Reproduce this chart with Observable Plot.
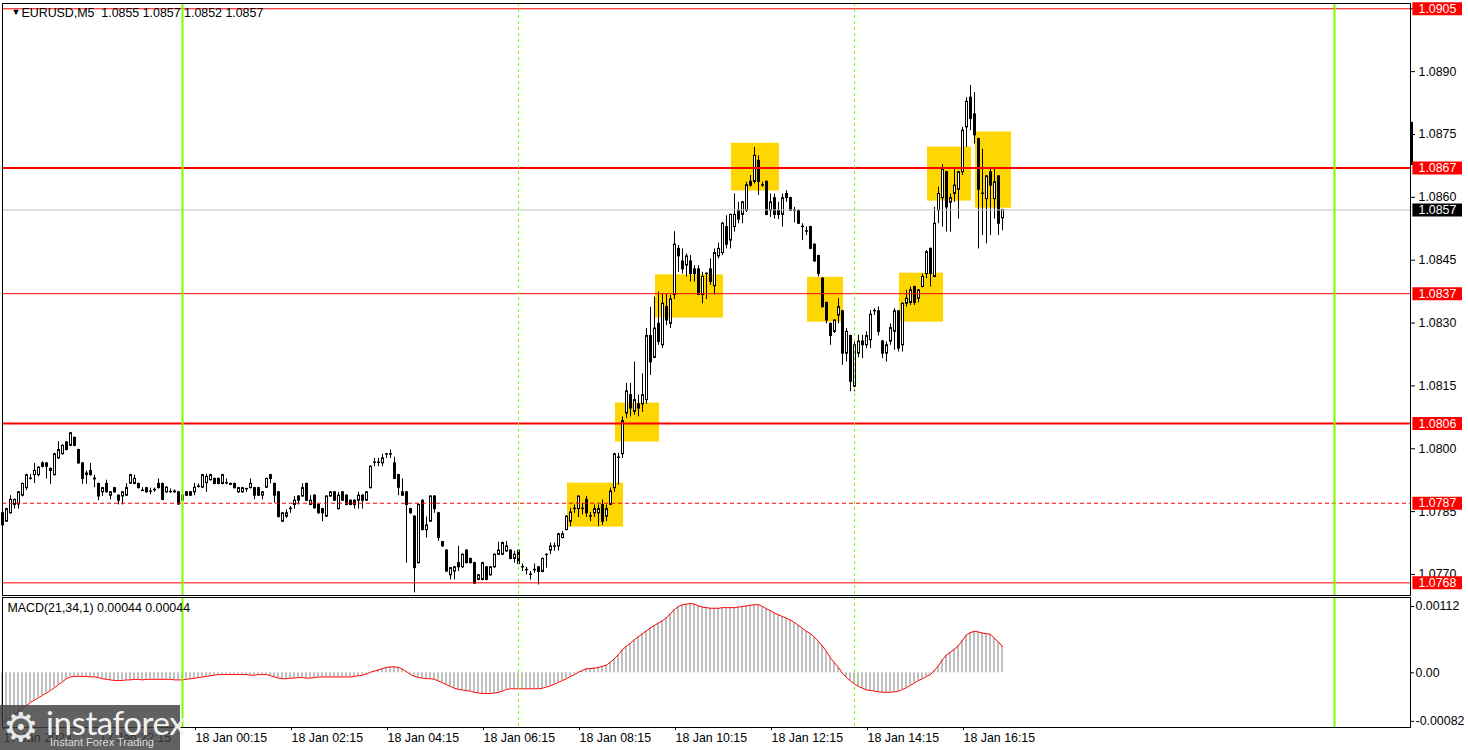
<!DOCTYPE html>
<html><head><meta charset="utf-8">
<script src="https://cdn.jsdelivr.net/npm/d3@7"></script>
<script src="https://cdn.jsdelivr.net/npm/@observablehq/plot@0.6"></script>
<style>
html,body{margin:0;padding:0;background:#fff;}
#wrap{position:relative;width:1468px;height:750px;overflow:hidden;font-family:"Liberation Sans",Arial,sans-serif;}
#wrap svg{display:block;}
#logo{position:absolute;left:0;top:705px;width:180px;height:45px;background:rgba(62,62,62,0.82);color:#fff;}
#logo .gear{position:absolute;left:3px;top:0px;font-size:40px;line-height:44px;color:#e8e8e8;font-family:"DejaVu Sans";}
#logo .brand{position:absolute;left:46px;top:0px;font-size:33px;line-height:34px;color:#f2f2f2;font-family:"Lato","Liberation Sans";letter-spacing:-0.4px;}
#logo .tag{position:absolute;left:50px;top:31px;font-size:11px;line-height:13px;color:#ddd;font-family:"Liberation Sans";}
</style></head><body>
<div id="wrap"><div id="logo"><div class="gear">⚙</div><div class="brand">instaforex</div><div class="tag">Instant Forex Trading</div></div></div>
<script>
// ---- data: EURUSD M5 candles (index 0 = 17 Jan 20:15, step 5 min) ----
const opens = [
1.07846,1.07826,1.07846,1.07866,1.07867,1.07888,1.07906,1.07928,1.07937,1.07937,
1.07965,1.07965,1.07952,1.07937,1.07977,1.07987,1.08015,1.08007,1.08026,1.07997,
1.07965,1.07937,1.07947,1.07929,1.07916,1.07896,1.07916,1.07888,1.07906,1.07888,
1.07886,1.07888,1.07917,1.07916,1.07916,1.07900,1.07906,1.07898,1.07902,1.07916,
1.07916,1.07896,1.07897,1.07898,1.07896,1.07876,1.07896,1.07896,1.07896,1.07909,
1.07907,1.07918,1.07925,1.07928,1.07928,1.07916,1.07917,1.07916,1.07916,1.07896,
1.07896,1.07904,1.07906,1.07906,1.07906,1.07888,1.07907,1.07937,1.07916,1.07896,
1.07826,1.07838,1.07856,1.07866,1.07886,1.07886,1.07916,1.07866,1.07888,1.07866,
1.07856,1.07838,1.07886,1.07896,1.07856,1.07896,1.07888,1.07876,1.07876,1.07876,
1.07888,1.07876,1.07906,1.07966,1.07967,1.07965,1.07986,1.07987,1.07965,1.07937,
1.07896,1.07896,1.07856,1.07838,1.07727,1.07876,1.07806,1.07826,1.07886,1.07846,
1.07777,1.07757,1.07698,1.07707,1.07727,1.07717,1.07757,1.07737,1.07727,1.07687,
1.07687,1.07717,1.07698,1.07717,1.07747,1.07747,1.07755,1.07757,1.07737,1.07757,
1.07718,1.07711,1.07700,1.07710,1.07717,1.07706,1.07746,1.07757,1.07766,1.07767,
1.07787,1.07806,1.07826,1.07856,1.07856,1.07857,1.07878,1.07839,1.07846,1.07846,
1.07866,1.07838,1.07866,1.07906,1.07978,1.07987,1.08084,1.08128,1.08088,1.08106,
1.08106,1.08116,1.08269,1.08217,1.08298,1.08247,1.08338,1.08298,1.08367,1.08477,
1.08447,1.08437,1.08447,1.08428,1.08428,1.08367,1.08417,1.08428,1.08388,1.08459,
1.08467,1.08529,1.08497,1.08529,1.08568,1.08558,1.08568,1.08637,1.08637,1.08687,
1.08628,1.08637,1.08568,1.08598,1.08568,1.08558,1.08608,1.08598,1.08569,1.08568,
1.08530,1.08519,1.08529,1.08487,1.08460,1.08406,1.08348,1.08298,1.08279,1.08318,
1.08328,1.08227,1.08269,1.08148,1.08227,1.08256,1.08247,1.08259,1.08329,1.08328,
1.08256,1.08227,1.08256,1.08279,1.08328,1.08247,1.08346,1.08348,1.08386,1.08358,
1.08386,1.08417,1.08477,1.08410,1.08568,1.08598,1.08660,1.08587,1.08608,1.08618,
1.08660,1.08767,1.08838,1.08798,1.08739,1.08609,1.08596,1.08660,1.08596,1.08650,
1.08550];
const highs = [
1.07850,1.07858,1.07888,1.07880,1.07898,1.07918,1.07939,1.07939,1.07965,1.07957,
1.07969,1.07967,1.07954,1.07989,1.08017,1.08009,1.08017,1.08039,1.08028,1.07999,
1.07967,1.07947,1.07965,1.07937,1.07918,1.07908,1.07925,1.07898,1.07908,1.07890,
1.07898,1.07917,1.07939,1.07937,1.07918,1.07907,1.07908,1.07906,1.07906,1.07928,
1.07918,1.07909,1.07904,1.07902,1.07898,1.07890,1.07898,1.07898,1.07917,1.07916,
1.07939,1.07939,1.07939,1.07930,1.07930,1.07939,1.07928,1.07918,1.07918,1.07908,
1.07908,1.07906,1.07928,1.07908,1.07908,1.07898,1.07930,1.07939,1.07918,1.07898,
1.07848,1.07854,1.07862,1.07886,1.07888,1.07917,1.07918,1.07888,1.07890,1.07868,
1.07858,1.07888,1.07898,1.07898,1.07896,1.07898,1.07890,1.07878,1.07878,1.07896,
1.07890,1.07898,1.07959,1.07977,1.07977,1.07987,1.07988,1.07997,1.07980,1.07939,
1.07928,1.07898,1.07858,1.07840,1.07868,1.07878,1.07837,1.07888,1.07888,1.07848,
1.07779,1.07759,1.07717,1.07719,1.07767,1.07749,1.07759,1.07739,1.07729,1.07700,
1.07729,1.07719,1.07719,1.07749,1.07777,1.07777,1.07779,1.07759,1.07755,1.07759,
1.07725,1.07717,1.07707,1.07725,1.07719,1.07739,1.07749,1.07775,1.07775,1.07798,
1.07802,1.07840,1.07858,1.07866,1.07887,1.07870,1.07886,1.07848,1.07866,1.07866,
1.07878,1.07866,1.07906,1.07989,1.07989,1.08076,1.08156,1.08156,1.08207,1.08128,
1.08179,1.08287,1.08338,1.08362,1.08374,1.08370,1.08370,1.08366,1.08518,1.08485,
1.08477,1.08465,1.08461,1.08437,1.08437,1.08421,1.08419,1.08453,1.08477,1.08491,
1.08540,1.08556,1.08560,1.08608,1.08588,1.08590,1.08636,1.08652,1.08719,1.08699,
1.08636,1.08639,1.08608,1.08608,1.08588,1.08608,1.08616,1.08600,1.08576,1.08570,
1.08537,1.08529,1.08531,1.08489,1.08462,1.08408,1.08350,1.08300,1.08308,1.08358,
1.08330,1.08287,1.08271,1.08259,1.08271,1.08271,1.08279,1.08330,1.08334,1.08338,
1.08258,1.08255,1.08298,1.08334,1.08330,1.08348,1.08378,1.08386,1.08388,1.08380,
1.08417,1.08473,1.08479,1.08576,1.08624,1.08678,1.08662,1.08608,1.08667,1.08662,
1.08767,1.08838,1.08867,1.08850,1.08741,1.08715,1.08652,1.08667,1.08667,1.08652,
1.08570];
const lows = [
1.07810,1.07825,1.07844,1.07856,1.07856,1.07885,1.07900,1.07925,1.07917,1.07933,
1.07954,1.07928,1.07915,1.07935,1.07975,1.07985,1.07995,1.08005,1.08005,1.07963,
1.07915,1.07915,1.07935,1.07907,1.07876,1.07886,1.07894,1.07878,1.07894,1.07866,
1.07866,1.07886,1.07915,1.07914,1.07904,1.07898,1.07894,1.07890,1.07896,1.07904,
1.07876,1.07894,1.07894,1.07894,1.07865,1.07874,1.07886,1.07886,1.07888,1.07906,
1.07905,1.07896,1.07923,1.07914,1.07914,1.07914,1.07914,1.07912,1.07904,1.07894,
1.07894,1.07896,1.07904,1.07878,1.07886,1.07878,1.07905,1.07916,1.07870,1.07835,
1.07824,1.07834,1.07846,1.07856,1.07866,1.07884,1.07874,1.07864,1.07856,1.07844,
1.07826,1.07836,1.07884,1.07874,1.07854,1.07874,1.07864,1.07864,1.07856,1.07856,
1.07856,1.07874,1.07904,1.07957,1.07957,1.07957,1.07977,1.07977,1.07926,1.07888,
1.07886,1.07727,1.07844,1.07656,1.07725,1.07804,1.07787,1.07824,1.07846,1.07779,
1.07765,1.07705,1.07687,1.07687,1.07707,1.07715,1.07725,1.07725,1.07676,1.07685,
1.07685,1.07685,1.07696,1.07715,1.07745,1.07745,1.07753,1.07735,1.07727,1.07723,
1.07707,1.07699,1.07687,1.07703,1.07675,1.07704,1.07715,1.07747,1.07755,1.07756,
1.07785,1.07804,1.07814,1.07846,1.07836,1.07842,1.07836,1.07826,1.07836,1.07814,
1.07817,1.07826,1.07864,1.07896,1.07913,1.07977,1.08072,1.08076,1.08080,1.08076,
1.08087,1.08106,1.08175,1.08215,1.08247,1.08239,1.08294,1.08287,1.08356,1.08421,
1.08417,1.08410,1.08398,1.08398,1.08366,1.08346,1.08356,1.08390,1.08367,1.08453,
1.08461,1.08477,1.08477,1.08517,1.08537,1.08537,1.08564,1.08624,1.08632,1.08604,
1.08624,1.08556,1.08552,1.08548,1.08547,1.08529,1.08588,1.08566,1.08539,1.08535,
1.08497,1.08509,1.08475,1.08445,1.08410,1.08336,1.08298,1.08247,1.08275,1.08298,
1.08199,1.08207,1.08136,1.08136,1.08217,1.08215,1.08239,1.08239,1.08318,1.08269,
1.08215,1.08207,1.08247,1.08235,1.08231,1.08231,1.08338,1.08342,1.08342,1.08348,
1.08384,1.08406,1.08386,1.08408,1.08537,1.08529,1.08517,1.08517,1.08588,1.08548,
1.08652,1.08719,1.08759,1.08727,1.08477,1.08509,1.08489,1.08509,1.08548,1.08509,
1.08520];
const closes = [
1.07817,1.07856,1.07878,1.07878,1.07896,1.07916,1.07937,1.07929,1.07947,1.07955,
1.07957,1.07957,1.07947,1.07987,1.07997,1.08007,1.07997,1.08037,1.08007,1.07965,
1.07928,1.07941,1.07937,1.07927,1.07886,1.07906,1.07896,1.07896,1.07896,1.07876,
1.07896,1.07906,1.07937,1.07928,1.07906,1.07899,1.07896,1.07897,1.07901,1.07906,
1.07878,1.07907,1.07896,1.07896,1.07867,1.07888,1.07888,1.07888,1.07907,1.07910,
1.07937,1.07933,1.07937,1.07916,1.07916,1.07937,1.07918,1.07914,1.07906,1.07906,
1.07906,1.07903,1.07916,1.07888,1.07888,1.07896,1.07928,1.07928,1.07888,1.07837,
1.07846,1.07846,1.07857,1.07876,1.07876,1.07906,1.07876,1.07876,1.07858,1.07846,
1.07846,1.07886,1.07896,1.07876,1.07888,1.07876,1.07866,1.07866,1.07866,1.07888,
1.07876,1.07896,1.07957,1.07967,1.07966,1.07977,1.07987,1.07986,1.07928,1.07907,
1.07888,1.07866,1.07846,1.07715,1.07866,1.07806,1.07817,1.07886,1.07856,1.07787,
1.07767,1.07707,1.07715,1.07717,1.07717,1.07747,1.07727,1.07727,1.07678,1.07698,
1.07727,1.07687,1.07717,1.07747,1.07757,1.07775,1.07767,1.07737,1.07747,1.07725,
1.07717,1.07710,1.07699,1.07711,1.07706,1.07737,1.07747,1.07767,1.07767,1.07796,
1.07796,1.07838,1.07848,1.07857,1.07886,1.07856,1.07846,1.07838,1.07856,1.07856,
1.07826,1.07856,1.07898,1.07987,1.07979,1.08066,1.08137,1.08096,1.08116,1.08096,
1.08128,1.08269,1.08206,1.08287,1.08255,1.08346,1.08306,1.08356,1.08487,1.08459,
1.08428,1.08459,1.08417,1.08417,1.08367,1.08410,1.08418,1.08398,1.08467,1.08477,
1.08537,1.08487,1.08558,1.08558,1.08547,1.08588,1.08629,1.08628,1.08699,1.08637,
1.08629,1.08558,1.08588,1.08558,1.08558,1.08598,1.08598,1.08568,1.08568,1.08537,
1.08529,1.08518,1.08477,1.08447,1.08417,1.08338,1.08306,1.08269,1.08306,1.08338,
1.08227,1.08279,1.08160,1.08247,1.08256,1.08247,1.08269,1.08320,1.08328,1.08279,
1.08227,1.08247,1.08288,1.08328,1.08239,1.08346,1.08358,1.08378,1.08348,1.08378,
1.08410,1.08469,1.08417,1.08537,1.08608,1.08667,1.08576,1.08598,1.08628,1.08660,
1.08759,1.08828,1.08787,1.08748,1.08618,1.08608,1.08650,1.08628,1.08636,1.08537,
1.08570];
// MACD(21,34,1) main line per candle
const macd = [
-0.00084,-0.00080,-0.00075,-0.00070,-0.00065,-0.00060,-0.00055,-0.00050,-0.00046,-0.00042,
-0.00038,-0.00034,-0.00030,-0.00025,-0.00020,-0.00015,-0.00010,-0.00007,-0.00006,-0.00006,
-0.00006,-0.00006,-0.00007,-0.00007,-0.00008,-0.00010,-0.00011,-0.00012,-0.00013,-0.00013,
-0.00013,-0.00012,-0.00012,-0.00011,-0.00011,-0.00012,-0.00011,-0.00011,-0.00011,-0.00011,
-0.00011,-0.00011,-0.00011,-0.00012,-0.00012,-0.00012,-0.00011,-0.00010,-0.00009,-0.00008,
-0.00007,-0.00006,-0.00005,-0.00004,-0.00003,-0.00003,-0.00003,-0.00003,-0.00003,-0.00003,
-0.00003,-0.00003,-0.00004,-0.00004,-0.00003,-0.00003,-0.00003,-0.00005,-0.00007,-0.00009,
-0.00010,-0.00010,-0.00009,-0.00009,-0.00008,-0.00008,-0.00009,-0.00009,-0.00008,-0.00007,
-0.00007,-0.00007,-0.00007,-0.00007,-0.00007,-0.00007,-0.00007,-0.00007,-0.00006,-0.00005,
-0.00004,-0.00002,0.00001,0.00003,0.00005,0.00007,0.00009,0.00010,0.00010,0.00009,
0.00006,0.00002,-0.00003,-0.00006,-0.00008,-0.00009,-0.00010,-0.00010,-0.00011,-0.00014,
-0.00017,-0.00020,-0.00023,-0.00026,-0.00028,-0.00029,-0.00030,-0.00031,-0.00033,-0.00034,
-0.00035,-0.00035,-0.00035,-0.00034,-0.00033,-0.00031,-0.00028,-0.00027,-0.00027,-0.00027,
-0.00027,-0.00027,-0.00027,-0.00027,-0.00027,-0.00026,-0.00024,-0.00022,-0.00019,-0.00016,
-0.00013,-0.00010,-0.00006,-0.00003,0.00001,0.00004,0.00007,0.00007,0.00008,0.00009,
0.00011,0.00013,0.00018,0.00024,0.00031,0.00039,0.00045,0.00050,0.00056,0.00061,
0.00066,0.00071,0.00076,0.00080,0.00084,0.00088,0.00093,0.00100,0.00107,0.00112,
0.00115,0.00116,0.00117,0.00116,0.00113,0.00111,0.00110,0.00109,0.00109,0.00109,
0.00110,0.00110,0.00110,0.00110,0.00111,0.00112,0.00113,0.00114,0.00115,0.00115,
0.00112,0.00108,0.00105,0.00101,0.00098,0.00095,0.00092,0.00089,0.00085,0.00080,
0.00075,0.00070,0.00066,0.00060,0.00053,0.00045,0.00036,0.00025,0.00017,0.00009,
-0.00001,-0.00008,-0.00014,-0.00019,-0.00023,-0.00026,-0.00029,-0.00030,-0.00031,-0.00032,
-0.00033,-0.00033,-0.00033,-0.00032,-0.00031,-0.00028,-0.00025,-0.00021,-0.00017,-0.00013,
-0.00010,-0.00006,-0.00003,0.00004,0.00012,0.00022,0.00030,0.00035,0.00040,0.00046,
0.00055,0.00064,0.00068,0.00070,0.00069,0.00067,0.00066,0.00065,0.00058,0.00052,
0.00044];
// support / resistance levels
const thinLevels = [1.0905, 1.0837, 1.0768];
const thickLevels = [1.0867, 1.0806];
const dashedLevels = [1.0787];
const bidPrice = 1.0857;
const markerRange = [1.08676, 1.08779];
// highlighted zones (bar index extents, price extents)
const zoneFrom = [141.25, 153.25, 163.25, 182.25, 201.25, 224.25, 231.25, 243.25];
const zoneTo   = [155.25, 164.25, 180.25, 194.25, 210.25, 235.25, 242.25, 252.25];
const zoneLow  = [1.07813, 1.08016, 1.08312, 1.08615, 1.08302, 1.08302, 1.08591, 1.08574];
const zoneHigh = [1.07918, 1.08109, 1.08415, 1.08729, 1.08409, 1.08419, 1.08720, 1.08756];
// vertical markers (bar index)
const dayLines = [45, 333];
const sessionLines = [129, 213];
// axes
const priceTicks = [1.0905, 1.0890, 1.0875, 1.0860, 1.0845, 1.0830, 1.0815, 1.0800, 1.0785, 1.0770];
const macdTicks = [0.00112, 0, -0.00082];
const macdTickLabels = ["0.00112", "0.00", "-0.00082"];
const timeTicks = [0, 24, 48, 72, 96, 120, 144, 168, 192, 216, 240];
const timeLabels = ["17 Jan 2023", "17 Jan 22:15", "18 Jan 00:15", "18 Jan 02:15", "18 Jan 04:15", "18 Jan 06:15", "18 Jan 08:15", "18 Jan 10:15", "18 Jan 12:15", "18 Jan 14:15", "18 Jan 16:15"];
const titleText = "EURUSD,M5\u00a0 1.0855 1.0857 1.0852 1.0857";
const macdTitle = "MACD(21,34,1) 0.00044 0.00044";

// ---- build ----
const candles = opens.map((o, i) => ({i, o, h: highs[i], l: lows[i], c: closes[i], up: closes[i] >= o}));
const macdData = macd.map((v, i) => ({i, v}));
const zones = zoneFrom.map((f, k) => ({from: f, to: zoneTo[k], low: zoneLow[k], high: zoneHigh[k]}));
const levelLabels = [
  ...thinLevels.map(p => ({p, bg: "#ff0000"})),
  ...thickLevels.map(p => ({p, bg: "#ff0000"})),
  ...dashedLevels.map(p => ({p, bg: "#ff0000"})),
  {p: bidPrice, bg: "#000000"}
];
const xDomain = [0, 352];
const FONT = "'Liberation Sans', Arial, sans-serif";
const FS = 12.4;
const f4 = d3.format(".4f");
const timeMap = new Map(timeTicks.map((t, k) => [t, timeLabels[k]]));
const macdMap = new Map(macdTicks.map((t, k) => [t, macdTickLabels[k]]));
const GREEN = "#7CFC00";

const main = Plot.plot({
  width: 1468, height: 597,
  marginLeft: 2, marginRight: 58, marginTop: 3, marginBottom: 2,
  x: {type: "linear", domain: xDomain, axis: null},
  y: {type: "linear", domain: [1.076498, 1.090626], axis: null},
  style: {fontFamily: FONT, fontSize: FS + "px", background: "white", color: "black", overflow: "visible"},
  marks: [
    Plot.rect(zones, {x1: "from", x2: "to", y1: "low", y2: "high", fill: "#FFD700"}),
    Plot.ruleX(candles, {x: "i", y1: "l", y2: "h", stroke: "black", strokeWidth: 1}),
    Plot.rect(candles, {x1: d => d.i - 0.125, x2: d => d.i + 0.375, y1: "o", y2: "c",
      fill: d => d.up ? "white" : "black", stroke: "black", strokeWidth: 1}),
    Plot.ruleY([bidPrice], {stroke: "#C0C0C0"}),
    Plot.ruleY(thinLevels, {stroke: "#ff0000", strokeWidth: 1}),
    Plot.ruleY(thickLevels, {stroke: "#ff0000", strokeWidth: 2}),
    Plot.ruleY(dashedLevels, {stroke: "#ff0000", strokeWidth: 1, strokeDasharray: "4,3"}),
    Plot.ruleX(sessionLines, {stroke: GREEN, strokeWidth: 1, strokeDasharray: "3,3"}),
    Plot.ruleX(dayLines, {stroke: GREEN, strokeWidth: 2}),
    Plot.frame({stroke: "black"}),
    Plot.axisY({anchor: "right", ticks: priceTicks, tickFormat: f4, tickSize: 4, tickPadding: 4, label: null, fontSize: FS}),
    Plot.ruleX([xDomain[1]], {y1: markerRange[0], y2: markerRange[1], stroke: "black", strokeWidth: 3, dx: 1}),
    Plot.ruleY(levelLabels, {y: "p", x1: xDomain[1] + 0.6, x2: xDomain[1] + 13, stroke: "bg", strokeWidth: 13}),
    Plot.text(levelLabels, {y: "p", x: xDomain[1], text: d => f4(d.p), dx: 8, textAnchor: "start", fill: "white", fontSize: FS}),
    Plot.text(["\u25BC"], {text: d => d, frameAnchor: "top-left", lineAnchor: "middle", dx: 9, dy: 9, fontSize: 9, fill: "black"}),
    Plot.text([titleText], {text: d => d, frameAnchor: "top-left", lineAnchor: "middle", dx: 19, dy: 10, textAnchor: "start", fontSize: FS, fill: "black"})
  ]
});

const sub = Plot.plot({
  width: 1468, height: 153,
  marginLeft: 2, marginRight: 58, marginTop: 0, marginBottom: 23,
  x: {type: "linear", domain: xDomain, axis: null},
  y: {type: "linear", domain: [-0.000924, 0.001272], axis: null},
  style: {fontFamily: FONT, fontSize: FS + "px", background: "white", color: "black", overflow: "visible"},
  marks: [
    Plot.rect(macdData, {x1: d => d.i - 0.25, x2: d => d.i + 0.25, y1: 0, y2: "v", fill: "#C0C0C0"}),
    Plot.line(macdData, {x: "i", y: "v", stroke: "#ff0000", strokeWidth: 1}),
    Plot.ruleX(sessionLines, {stroke: GREEN, strokeWidth: 1, strokeDasharray: "3,3"}),
    Plot.ruleX(dayLines, {stroke: GREEN, strokeWidth: 2}),
    Plot.frame({stroke: "black"}),
    Plot.axisY({anchor: "right", ticks: macdTicks, tickFormat: d => macdMap.get(d), tickSize: 3, tickPadding: 2, label: null, fontSize: FS}),
    Plot.axisX({anchor: "bottom", ticks: timeTicks, tickFormat: d => timeMap.get(d), tickSize: 3, tickPadding: 3, textAnchor: "start", dx: 1, label: null, fontSize: FS}),
    Plot.text([macdTitle], {text: d => d, frameAnchor: "top-left", lineAnchor: "middle", dx: 5, dy: 11, textAnchor: "start", fontSize: FS, fill: "black"})
  ]
});

const wrap = document.getElementById("wrap");
const logo = document.getElementById("logo");
wrap.insertBefore(main, logo);
wrap.insertBefore(sub, logo);
</script>
</body></html>
